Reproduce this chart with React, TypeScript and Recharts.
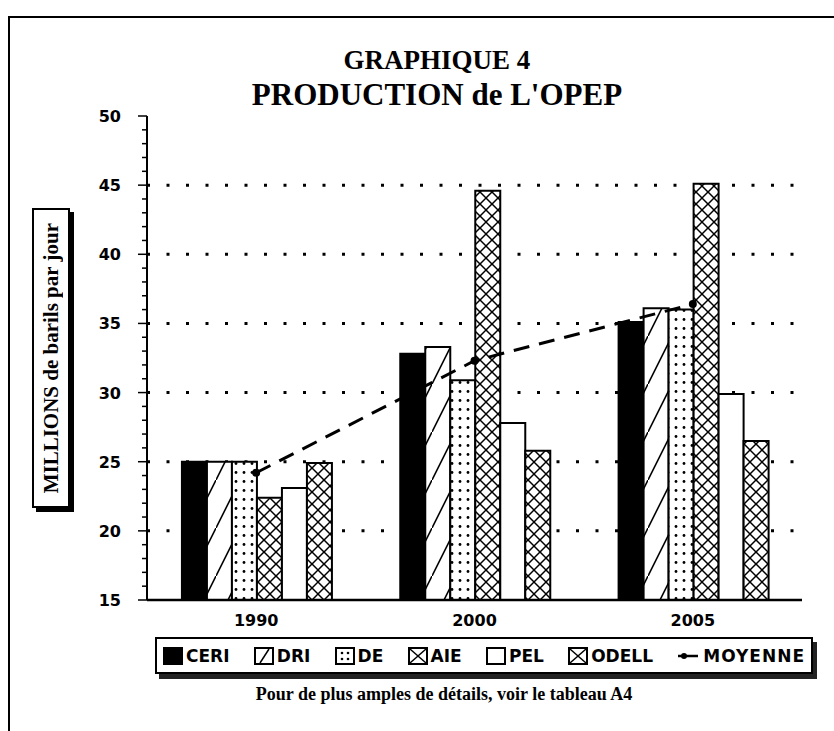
import {
  ComposedChart,
  Bar,
  Line,
  XAxis,
  YAxis,
  CartesianGrid,
} from 'recharts'

const years = ['1990', '2000', '2005']
const ceri = [25.0, 32.8, 35.1]
const dri = [25.0, 33.3, 36.1]
const de = [25.0, 30.9, 36.0]
const aie = [22.4, 44.6, 45.1]
const pel = [23.1, 27.8, 29.9]
const odell = [24.9, 25.8, 26.5]
const moyenne = [24.2, 32.3, 36.4]

const yMajor = [15, 20, 25, 30, 35, 40, 45, 50]
const yTicks = Array.from({ length: 36 }, (_, i) => 15 + i)
const gridValues = [20, 25, 30, 35, 40, 45]

const seriesNames = ['CERI', 'DRI', 'DE', 'AIE', 'PEL', 'ODELL']
const seriesKeys = ['ceri', 'dri', 'de', 'aie', 'pel', 'odell']
const seriesFills = ['#000', 'url(#pDiag)', 'url(#pDots)', 'url(#pCross)', '#fff', 'url(#pCross)']

const data = years.map((year, i) => ({
  year,
  ceri: ceri[i],
  dri: dri[i],
  de: de[i],
  aie: aie[i],
  pel: pel[i],
  odell: odell[i],
  moyenne: moyenne[i],
}))

const SANS = '"DejaVu Sans", Arial, sans-serif'
const SERIF = '"Liberation Serif", "Times New Roman", serif'

const YTick = ({ x, y, payload }: any) => {
  const major = yMajor.includes(payload.value)
  return (
    <g>
      <line x1={x - (major ? 9 : 5)} x2={x} y1={y} y2={y} stroke="#000" strokeWidth={1.5} />
      {major && (
        <text
          x={x - 26}
          y={y}
          dy={6}
          textAnchor="end"
          fontFamily={SANS}
          fontWeight={700}
          fontSize={16}
          fill="#000"
        >
          {payload.value}
        </text>
      )}
    </g>
  )
}

// small legend markers, drawn by hand
const Swatch = ({ idx }: { idx: number }) => (
  <svg width={20} height={18} style={{ display: 'block' }}>
    <rect x={1} y={1} width={18} height={16} fill={idx === 0 ? '#000' : '#fff'} stroke="#000" strokeWidth={2} />
    {idx === 1 && <line x1={6} y1={16} x2={15} y2={2} stroke="#000" strokeWidth={1.5} />}
    {idx === 2 && (
      <g fill="#000">
        <circle cx={7} cy={6} r={1.3} />
        <circle cx={13} cy={6} r={1.3} />
        <circle cx={7} cy={12} r={1.3} />
        <circle cx={13} cy={12} r={1.3} />
      </g>
    )}
    {(idx === 3 || idx === 5) && (
      <g stroke="#000" strokeWidth={1.5}>
        <line x1={2} y1={2} x2={18} y2={16} />
        <line x1={18} y1={2} x2={2} y2={16} />
      </g>
    )}
  </svg>
)

export default function App() {
  return (
    <div style={{ position: 'absolute', left: 0, top: 0, width: 834, height: 731, background: '#fff' }}>
      {/* outer frame */}
      <div
        style={{
          position: 'absolute',
          left: 8,
          top: 16,
          width: 840,
          height: 740,
          borderTop: '2px solid #000',
          borderLeft: '2px solid #000',
        }}
      />
      <div
        style={{
          position: 'absolute',
          left: 237,
          top: 43,
          width: 400,
          textAlign: 'center',
          fontFamily: SERIF,
          fontWeight: 700,
        }}
      >
        <div style={{ fontSize: 27, lineHeight: '34px' }}>GRAPHIQUE 4</div>
        <div style={{ fontSize: 31, lineHeight: '36px' }}>PRODUCTION de L'OPEP</div>
      </div>

      {/* y axis title box */}
      <div
        style={{
          position: 'absolute',
          left: 32,
          top: 208,
          width: 34,
          height: 296,
          border: '2px solid #000',
          boxShadow: '4px 4px 0 #000',
          background: '#fff',
          display: 'flex',
          alignItems: 'center',
          justifyContent: 'center',
        }}
      >
        <span
          style={{
            writingMode: 'vertical-rl',
            transform: 'rotate(180deg)',
            fontFamily: SERIF,
            fontWeight: 700,
            fontSize: 21,
            whiteSpace: 'nowrap',
          }}
        >
          MILLIONS de barils par jour
        </span>
      </div>

      <div style={{ position: 'absolute', left: 0, top: 0 }}>
        <ComposedChart
          width={834}
          height={731}
          data={data}
          margin={{ top: 116, right: 32, bottom: 101, left: 87 }}
          barGap={0}
          barCategoryGap="16%"
        >
          <defs>
            <pattern id="pDiag" patternUnits="userSpaceOnUse" width={24} height={48}>
              <rect width={24} height={48} fill="#fff" />
              <line x1={0} y1={48} x2={24} y2={0} stroke="#000" strokeWidth={1.6} />
            </pattern>
            <pattern id="pDots" patternUnits="userSpaceOnUse" width={8} height={9}>
              <rect width={8} height={9} fill="#fff" />
              <circle cx={4} cy={4.5} r={1.4} fill="#000" />
            </pattern>
            <pattern id="pCross" patternUnits="userSpaceOnUse" width={12} height={12}>
              <rect width={12} height={12} fill="#fff" />
              <line x1={0} y1={0} x2={12} y2={12} stroke="#000" strokeWidth={1.5} />
              <line x1={12} y1={0} x2={0} y2={12} stroke="#000" strokeWidth={1.5} />
            </pattern>
          </defs>
          <CartesianGrid
            horizontal
            vertical={false}
            horizontalValues={gridValues}
            stroke="#000"
            strokeWidth={3}
            strokeDasharray="3 16.5"
          />
          <XAxis
            dataKey="year"
            height={30}
            tickLine={false}
            tickSize={0}
            tickMargin={15}
            axisLine={{ stroke: '#000', strokeWidth: 2.5 }}
            tick={{ fill: '#000', fontSize: 16, fontWeight: 700, fontFamily: SANS }}
          />
          <XAxis
            xAxisId="top"
            dataKey="year"
            orientation="top"
            height={0}
            tick={false}
            tickLine={false}
            axisLine={{ stroke: '#000', strokeWidth: 2 }}
          />
          <YAxis
            domain={[15, 50]}
            ticks={yTicks}
            interval={0}
            width={60}
            tickSize={0}
            tickMargin={0}
            tickLine={false}
            allowDataOverflow
            axisLine={{ stroke: '#000', strokeWidth: 2 }}
            tick={<YTick />}
          />
          <YAxis
            yAxisId="right"
            orientation="right"
            domain={[15, 50]}
            width={0}
            tick={false}
            tickLine={false}
            axisLine={{ stroke: '#000', strokeWidth: 2 }}
          />
          {seriesKeys.map((k, i) => (
            <Bar
              key={k}
              dataKey={k}
              name={seriesNames[i]}
              fill={seriesFills[i]}
              stroke="#000"
              strokeWidth={2}
              isAnimationActive={false}
            />
          ))}
          <Line
            type="linear"
            dataKey="moyenne"
            name="MOYENNE"
            stroke="#000"
            strokeWidth={3}
            strokeDasharray="16 10"
            dot={{ r: 2.5, fill: '#000', stroke: '#000' }}
            isAnimationActive={false}
          />
        </ComposedChart>
      </div>

      {/* legend */}
      <div
        style={{
          position: 'absolute',
          left: 155,
          top: 637,
          width: 642,
          height: 33,
          border: '2px solid #000',
          boxShadow: '4px 5px 0 #222',
          background: '#fff',
          display: 'flex',
          alignItems: 'center',
          justifyContent: 'space-between',
          padding: '0 6px 0 6px',
          boxSizing: 'content-box',
          fontFamily: SANS,
          fontWeight: 700,
          fontSize: 17,
        }}
      >
        {seriesNames.map((n, i) => (
          <div key={n} style={{ display: 'flex', alignItems: 'center', gap: 3 }}>
            <Swatch idx={i} />
            <span>{n}</span>
          </div>
        ))}
        <div style={{ display: 'flex', alignItems: 'center', gap: 4 }}>
          <svg width={22} height={18} style={{ display: 'block' }}>
            <line x1={1} y1={9} x2={21} y2={9} stroke="#000" strokeWidth={2.5} />
            <circle cx={7} cy={9} r={3} fill="#000" />
          </svg>
          <span style={{ letterSpacing: 1 }}>MOYENNE</span>
        </div>
      </div>

      <div
        style={{
          position: 'absolute',
          left: 244,
          top: 684,
          width: 400,
          textAlign: 'center',
          fontFamily: SERIF,
          fontWeight: 700,
          fontSize: 18,
        }}
      >
        Pour de plus amples de détails, voir le tableau A4
      </div>
    </div>
  )
}
